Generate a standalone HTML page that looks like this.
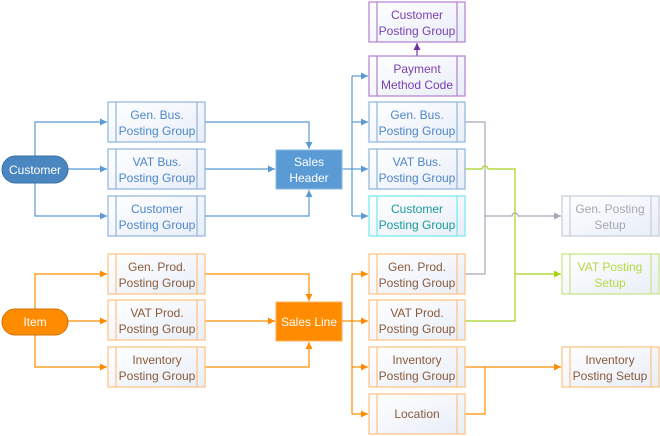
<!DOCTYPE html><html><head><style>body{margin:0;background:#fff}svg{display:block}text{font-family:"Liberation Sans",sans-serif;font-size:12px;text-anchor:middle}</style></head><body>
<svg width="660" height="436" viewBox="0 0 660 436" xmlns="http://www.w3.org/2000/svg">
<defs>
<linearGradient id="g" x1="0" y1="0" x2="1" y2="1"><stop offset="0" stop-color="#fff"/><stop offset="1" stop-color="#e8eef8"/></linearGradient>
<marker id="ab" markerWidth="8" markerHeight="8" refX="7" refY="4" orient="auto" markerUnits="userSpaceOnUse"><path d="M0,0.5L7,4L0,7.5z" fill="#5b9bd5"/></marker>
<marker id="ao" markerWidth="8" markerHeight="8" refX="7" refY="4" orient="auto" markerUnits="userSpaceOnUse"><path d="M0,0.5L7,4L0,7.5z" fill="#ff8c00"/></marker>
<marker id="ap" markerWidth="8" markerHeight="8" refX="7" refY="4" orient="auto" markerUnits="userSpaceOnUse"><path d="M0,0.5L7,4L0,7.5z" fill="#7030a0"/></marker>
<marker id="ag" markerWidth="8" markerHeight="8" refX="7" refY="4" orient="auto" markerUnits="userSpaceOnUse"><path d="M0,0.5L7,4L0,7.5z" fill="#a8a8b8"/></marker>
<marker id="al" markerWidth="8" markerHeight="8" refX="7" refY="4" orient="auto" markerUnits="userSpaceOnUse"><path d="M0,0.5L7,4L0,7.5z" fill="#a8d020"/></marker>
</defs>
<g fill="none" stroke-width="1.2">
<!-- blue left -->
<g stroke="#5b9bd5">
<path d="M35,156V122H107" marker-end="url(#ab)"/>
<path d="M68,169H107" marker-end="url(#ab)"/>
<path d="M35,183V216H107" marker-end="url(#ab)"/>
<path d="M205,122H309V149" marker-end="url(#ab)"/>
<path d="M205,169H275" marker-end="url(#ab)"/>
<path d="M205,216H309V190" marker-end="url(#ab)"/>
<path d="M342,169H352"/>
<path d="M352,76V216"/>
<path d="M352,76H368" marker-end="url(#ab)"/>
<path d="M352,122H368" marker-end="url(#ab)"/>
<path d="M352,169H368" marker-end="url(#ab)"/>
<path d="M352,216H368" marker-end="url(#ab)"/>
</g>
<path d="M417,56V43" stroke="#7030a0" marker-end="url(#ap)"/>
<!-- orange -->
<g stroke="#ff8c00">
<path d="M35,310V274H107" marker-end="url(#ao)"/>
<path d="M68,321H107" marker-end="url(#ao)"/>
<path d="M35,334V367H107" marker-end="url(#ao)"/>
<path d="M205,274H309V301" marker-end="url(#ao)"/>
<path d="M205,321H275" marker-end="url(#ao)"/>
<path d="M205,367H309V342" marker-end="url(#ao)"/>
<path d="M342,321H352"/>
<path d="M352,274V414"/>
<path d="M352,274H368" marker-end="url(#ao)"/>
<path d="M352,321H368" marker-end="url(#ao)"/>
<path d="M352,367H368" marker-end="url(#ao)"/>
<path d="M352,414H368" marker-end="url(#ao)"/>
<path d="M465,367H561" marker-end="url(#ao)"/>
<path d="M465,414H485V367"/>
</g>
<g stroke="#a8a8b8">
<path d="M465,122H485V274H465"/>
<path d="M485,216H512a3,3 0 0 1 6,0H561" marker-end="url(#ag)"/>
</g>
<g stroke="#a8d020">
<path d="M465,169H482a3,3 0 0 1 6,0H515V321H465"/>
<path d="M515,274H561" marker-end="url(#al)"/>
</g>
</g>
<!-- pills -->
<rect x="2" y="156" width="66" height="27" rx="13.5" fill="#4a86c0" stroke="#3a70a8"/>
<text x="35" y="174" fill="#fff">Customer</text>
<rect x="2" y="309" width="66" height="26" rx="13" fill="#ff8c00" stroke="#d07000"/>
<text x="35" y="326" fill="#fff">Item</text>
<rect x="276" y="150" width="66" height="39" fill="#5b9bd5" stroke="#8ab8e0"/>
<text x="309" y="166" fill="#fff">Sales</text><text x="309" y="182" fill="#fff">Header</text>
<rect x="276" y="302" width="66" height="39" fill="#ff8c00" stroke="#ffb060"/>
<text x="309" y="326" fill="#fff">Sales Line</text>
<!-- boxes -->
<g stroke-width="1.2">
<g stroke="#8fb4de" fill="url(#g)">
<rect x="108" y="102" width="97" height="40"/><rect x="108" y="149" width="97" height="40"/><rect x="108" y="196" width="97" height="40"/>
<rect x="369" y="102" width="96" height="40"/><rect x="369" y="149" width="96" height="40"/>
<path d="M116,102v40M197,102v40M116,149v40M197,149v40M116,196v40M197,196v40M377,102v40M457,102v40M377,149v40M457,149v40" fill="none"/>
</g>
<g stroke="#b080d0" fill="url(#g)">
<rect x="369" y="2" width="96" height="40"/><rect x="369" y="56" width="96" height="40"/>
<path d="M377,2v40M457,2v40M377,56v40M457,56v40" fill="none"/>
</g>
<g stroke="#70e8f0" fill="url(#g)"><rect x="369" y="196" width="96" height="40"/><path d="M377,196v40M457,196v40" fill="none"/></g>
<g stroke="#c8ccd8" fill="url(#g)"><rect x="562" y="196" width="97" height="40"/><path d="M570,196v40M651,196v40" fill="none"/></g>
<g stroke="#c8e480" fill="url(#g)"><rect x="562" y="254" width="97" height="40"/><path d="M570,254v40M651,254v40" fill="none"/></g>
<g stroke="#ffc080" fill="url(#g)">
<rect x="108" y="254" width="97" height="40"/><rect x="108" y="300" width="97" height="40"/><rect x="108" y="347" width="97" height="40"/>
<rect x="369" y="254" width="96" height="40"/><rect x="369" y="300" width="96" height="40"/><rect x="369" y="347" width="96" height="40"/><rect x="369" y="394" width="96" height="40"/>
<rect x="562" y="347" width="97" height="40"/>
<path d="M116,254v40M197,254v40M116,300v40M197,300v40M116,347v40M197,347v40M377,254v40M457,254v40M377,300v40M457,300v40M377,347v40M457,347v40M377,394v40M457,394v40M570,347v40M651,347v40" fill="none"/>
</g>
</g>
<g fill="#4f86c8">
<text x="157" y="119">Gen. Bus.</text><text x="157" y="135">Posting Group</text>
<text x="157" y="166">VAT Bus.</text><text x="157" y="182">Posting Group</text>
<text x="157" y="213">Customer</text><text x="157" y="229">Posting Group</text>
<text x="417" y="119">Gen. Bus.</text><text x="417" y="135">Posting Group</text>
<text x="417" y="166">VAT Bus.</text><text x="417" y="182">Posting Group</text>
</g>
<g fill="#7a3fb0">
<text x="417" y="19">Customer</text><text x="417" y="35">Posting Group</text>
<text x="417" y="73">Payment</text><text x="417" y="89">Method Code</text>
</g>
<g fill="#1a9a9a"><text x="417" y="213">Customer</text><text x="417" y="229">Posting Group</text></g>
<g fill="#a8a8b4"><text x="610" y="213">Gen. Posting</text><text x="610" y="229">Setup</text></g>
<g fill="#b8d840"><text x="610" y="271">VAT Posting</text><text x="610" y="287">Setup</text></g>
<g fill="#8a5a3a">
<text x="157" y="271">Gen. Prod.</text><text x="157" y="287">Posting Group</text>
<text x="157" y="317">VAT Prod.</text><text x="157" y="333">Posting Group</text>
<text x="157" y="364">Inventory</text><text x="157" y="380">Posting Group</text>
<text x="417" y="271">Gen. Prod.</text><text x="417" y="287">Posting Group</text>
<text x="417" y="317">VAT Prod.</text><text x="417" y="333">Posting Group</text>
<text x="417" y="364">Inventory</text><text x="417" y="380">Posting Group</text>
<text x="417" y="418">Location</text>
<text x="610" y="364">Inventory</text><text x="610" y="380">Posting Setup</text>
</g>
</svg></body></html>
